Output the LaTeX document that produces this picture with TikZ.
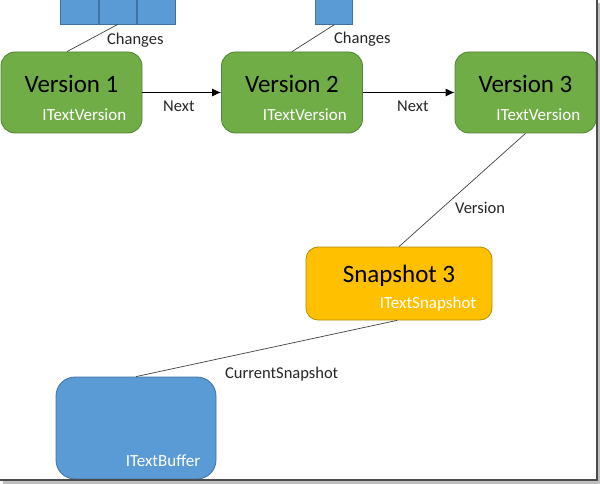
\documentclass[tikz,border=0pt]{standalone}
\usepackage{fontspec}
\setmainfont{Carlito}
\usetikzlibrary{positioning,arrows.meta}
\definecolor{vergreen}{HTML}{70AD47}
\definecolor{verline}{HTML}{548235}
\definecolor{snapfill}{HTML}{FFC000}
\definecolor{snapline}{HTML}{A8900F}
\definecolor{buffill}{HTML}{5B9BD5}
\definecolor{bufline}{HTML}{41719C}
\definecolor{linkgray}{HTML}{404040}
\tikzset{
  verbox/.style={draw=verline, fill=vergreen, line width=0.8pt, rounded corners=14pt,
    minimum width=141pt, minimum height=81pt},
  snapbox/.style={draw=snapline, fill=snapfill, line width=0.8pt, rounded corners=12pt,
    minimum width=186pt, minimum height=73pt},
  bufbox/.style={draw=bufline, fill=buffill, line width=0.8pt, rounded corners=19pt,
    minimum width=160pt, minimum height=102pt},
  cell/.style={draw=bufline, fill=buffill, line width=0.8pt, minimum width=37.7pt,
    minimum height=26pt, inner sep=0pt},
  title/.style={anchor=base, inner sep=0pt, font=\fontsize{25}{30}\selectfont},
  iface/.style={anchor=base east, inner sep=0pt, text=white, font=\fontsize{17}{20}\selectfont},
  lbl/.style={anchor=base west, inner sep=0pt, text=black!85, font=\fontsize{16.5}{20}\selectfont},
  link/.style={draw=linkgray, line width=0.7pt},
  nextarrow/.style={draw=black, line width=0.8pt, -{Latex[length=9pt,width=8pt]}}
}
\begin{document}
\begin{tikzpicture}[x=1pt,y=-1pt]
\useasboundingbox (0,0) rectangle (600,484);
\clip (0,0) rectangle (600,484);
% versions
\node[verbox] (v1) at (71.5,92.5) {};
\node[verbox] (v2) at (292,92.5) {};
\node[verbox] (v3) at (525.5,92.5) {};
\node[title] at (v1.center) {Version 1};
\node[title] at (v2.center) {Version 2};
\node[title] at (v3.center) {Version 3};
\foreach \v in {v1,v2,v3}
  \node[iface] at ([xshift=-16pt,yshift=13pt]\v.south east) {ITextVersion};
% changes
\node[cell] (c1a) at (79.3,11) {};
\node[cell, right=0pt of c1a] (c1b) {};
\node[cell, right=0pt of c1b] (c1c) {};
\node[cell] (c2) at (334,11.5) {};
\draw[link] (c1b.south) -- ([xshift=-4.5pt]v1.north);
\draw[link] (c2.south) -- (v2.north);
\node[lbl] at (107,45) {Changes};
\node[lbl] at (334,44) {Changes};
% next
\draw[nextarrow] (v1) -- (v2);
\draw[nextarrow] (v2) -- (v3);
\node[lbl] at (163,112) {Next};
\node[lbl] at (397,112) {Next};
% snapshot
\node[snapbox] (snap) at (399,283.5) {};
\node[title] at ([yshift=1.5pt]snap.center) {Snapshot 3};
\node[iface] at ([xshift=-16pt,yshift=12pt]snap.south east) {ITextSnapshot};
\draw[link] (v3.south) -- (snap.north);
\node[lbl] at (455,214) {Version};
% buffer
\node[bufbox] (buf) at (136,428) {};
\node[iface] at ([xshift=-16pt,yshift=13pt]buf.south east) {ITextBuffer};
\draw[link] ([xshift=-2pt]snap.south) -- (buf.north);
\node[lbl] at (225,378) {CurrentSnapshot};
% frame
\fill[black!25] (3,481) rectangle (600,484);
\fill[black!25] (598,3) rectangle (600,484);
\draw[black!70, line width=2pt] (0,480) -- (597,480) -- (597,0);
\end{tikzpicture}
\end{document}
